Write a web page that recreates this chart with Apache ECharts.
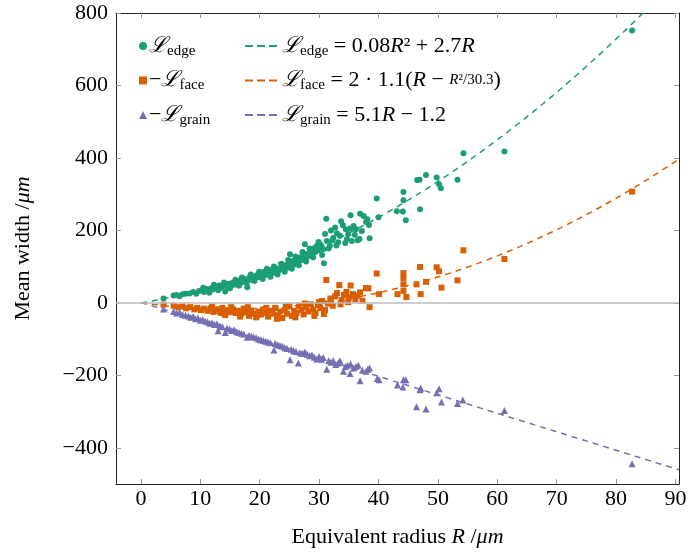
<!DOCTYPE html>
<html><head><meta charset="utf-8">
<script src="https://cdn.jsdelivr.net/npm/echarts@6/dist/echarts.min.js"></script>
<style>html,body{margin:0;padding:0;background:#fff}#c{width:690px;height:553px}</style>
</head><body><div id="c"></div>
<script>
const xTicks = [0,10,20,30,40,50,60,70,80,90];
const yTicks = [-400,-200,0,200,400,600,800];
const xRange = [-4.2, 90.6];
const yRange = [-500, 800];

// [R, value]
const edgeData = [
[3.8,12],[5.5,20],[6,22],[6.5,18],[7,24],[7.5,25],[8.2,26],[8.8,30],[9.3,25],[9.8,33],[10.2,35],[10.6,30],[11,38],[11.3,34],[11.8,40],[12.1,37],[12.5,44],[12.8,40],[13.2,48],[13.5,42],[13.9,50],[14.2,31],[14.4,46],[14.8,52],[15.1,48],[15.4,55],[15.7,50],[16,58],[16.3,53],[16.6,62],[16.9,56],[17.2,60],[17.5,66],[17.9,43],[18,63],[18.3,70],[18.6,64],[18.9,72],[19.2,68],[19.5,76],[19.8,71],[20.1,80],[20.4,73],[20.7,85],[21,77],[21.3,82],[21.6,88],[21.9,79],[22.2,90],[22.5,84],[22.8,95],[23.1,87],[23.4,92],[23.7,100],[24,94],[24.3,104],[24.6,97],[24.9,110],[25.1,134],[25.2,102],[25.5,115],[25.8,106],[26.1,120],[26.4,112],[26.7,125],[27,118],[27.3,130],[27.6,162],[27.6,122],[27.9,135],[28.2,128],[28.5,139],[28.8,136],[29.1,150],[29.4,140],[29.6,157],[29.7,155],[30,145],[30.3,160],[30.7,148],[30.8,109],[31.2,232],[31.3,171],[31.8,157],[32.4,180],[32.7,208],[33,192],[33.2,167],[33.5,185],[34,214],[34.4,165],[34.5,203],[34.7,176],[34.9,190],[35.2,205],[35.3,242],[35.5,171],[36.2,203],[36.5,173],[36.8,176],[36.9,246],[37.9,223],[38.1,231],[38.4,215],[38.5,178],[39.7,288],[40,236],[43.1,253],[44.1,252],[44.2,283],[44.2,306],[44.6,228],[46.5,339],[46.9,340],[47,258],[48,353],[49.8,346],[50.2,327],[50.5,316],[53.3,340],[54.3,413],[61.2,418],[82.7,752],
[10.5,42],[11.5,28],[12.3,50],[13,35],[14,56],[15,40],[15.9,64],[16.5,47],[17,70],[17.8,55],[18.5,78],[19.1,60],[19.9,86],[20.5,66],[21.2,94],[21.8,72],[22.4,100],[23,78],[23.6,108],[24.2,86],[24.8,118],[25.4,94],[26,128],[26.6,104],[27.2,140],[27.8,114],[28.4,150],[29,126],[29.9,168],[30.5,132],[31,190],[31.6,150],[32,200],[32.9,158],[33.7,225],[35.8,212],[36,188],[37.2,198],[37.5,240],[32.2,172]
];
const faceData = [
[3.8,-5],[5.5,-8],[6.2,-12],[7,-10],[7.6,-15],[8.3,-12],[9,-18],[9.5,-14],[10.1,-20],[10.6,-16],[11.2,-22],[11.7,-15],[12.2,-25],[12.7,-18],[13.2,-24],[13.7,-14],[14.2,-34],[14.5,-20],[15,-26],[15.5,-18],[16,-28],[16.4,-22],[16.9,-30],[17.3,-16],[17.8,-26],[18.2,-36],[18.6,-22],[19,-30],[19.4,-40],[19.8,-24],[20.2,-32],[20.6,-18],[21,-28],[21.4,-38],[21.8,-22],[22.2,-30],[22.6,-14],[23,-34],[23.4,-24],[23.8,-42],[24.2,-20],[24.6,-30],[25,-10],[25.4,-36],[25.8,-22],[26.2,-28],[26.6,-8],[27,-20],[27.4,-32],[27.8,-12],[28.2,-24],[28.6,-4],[29,-18],[29.4,-28],[29.8,-6],[30.2,-14],[30.5,5],[30.8,-31],[31.2,63],[31.5,-2],[31.9,12],[32.3,-8],[32.7,18],[33,27],[33.4,49],[33.8,8],[34.2,22],[34.6,30],[35,14],[35.3,48],[35.7,24],[36.1,10],[36.5,20],[36.9,29],[37.3,6],[37.9,41],[38.3,40],[38.5,-12],[39.7,81],[40.1,24],[43.2,24],[44.2,82],[44.2,68],[44.2,51],[44.2,33],[44.7,16],[46.4,51],[47,99],[47.1,24],[48,58],[49.8,98],[50.2,87],[50.6,42],[53.3,62],[54.3,145],[61.2,121],[82.7,307],
[12,-10],[13.5,-28],[15.2,-12],[16.7,-38],[18,-12],[19.6,-34],[21.1,-14],[22.9,-44],[24.4,-10],[26,-40],[27.6,-2],[29.2,-36],[30,2],[31,-20],[32,4],[33.6,-4],[34.9,2]
];
const grainData = [
[3.8,-17],[5.5,-24],[6,-28],[6.5,-26],[7,-32],[7.5,-34],[8,-36],[8.4,-40],[8.8,-38],[9.2,-44],[9.6,-42],[10,-48],[10.4,-46],[10.8,-50],[11.2,-52],[11.6,-56],[12,-55],[12.4,-60],[12.8,-58],[13,-77],[13.3,-64],[13.7,-66],[14.2,-82],[14.5,-70],[14.9,-72],[15.3,-76],[15.7,-74],[16.1,-80],[16.5,-82],[16.9,-84],[17.3,-86],[17.9,-95],[18.2,-90],[18.6,-92],[19,-94],[19.4,-96],[19.8,-100],[20.2,-102],[20.6,-104],[21,-106],[21.4,-108],[21.8,-110],[22.4,-130],[22.6,-112],[23,-116],[23.4,-118],[23.8,-120],[24.2,-124],[24.6,-126],[25.1,-157],[25.3,-128],[25.7,-132],[26.1,-134],[26.5,-166],[26.8,-138],[27.2,-140],[27.6,-136],[28,-142],[28.4,-146],[28.8,-144],[29.2,-150],[29.6,-155],[30,-148],[30.4,-156],[30.7,-151],[31.3,-183],[31.6,-160],[32,-164],[32.4,-160],[32.8,-170],[33.2,-166],[33.5,-160],[34.1,-189],[34.4,-176],[34.8,-172],[35.2,-195],[35.3,-169],[35.8,-180],[36.2,-176],[36.6,-172],[36.9,-215],[37.3,-186],[37.9,-189],[38.2,-183],[38.5,-180],[39.8,-209],[40.1,-212],[43.2,-227],[44.1,-232],[44.2,-212],[44.6,-212],[46.4,-287],[47,-240],[47.1,-236],[48,-293],[49.8,-248],[50.2,-237],[50.6,-274],[53.3,-278],[54.2,-268],[61.2,-297],[82.7,-444]
];
// fit coefficients shown in the legend
const edgeFit = [0.08, 2.7];          // a R^2 + b R
const faceFit = [2, 1.1, 30.3];       // -(2*1.1*(R - R^2/30.3))
const grainFit = [5.1, -1.2];         // -(5.1 R - 1.2)

const colors = {edge:'#1b9e77', face:'#d95f02', grain:'#7570b3'};

function curve(f){ const out=[]; for(let i=0;i<=200;i++){const r=xRange[1]*i/200; out.push([r,f(r)]);} return out; }
const edgeLine = curve(r=>edgeFit[0]*r*r+edgeFit[1]*r);
const faceLine = curve(r=>-(faceFit[0]*faceFit[1]*(r-r*r/faceFit[2])));
const grainLine = curve(r=>-(grainFit[0]*r+grainFit[1]));

const FONT = 'Liberation Serif';
const fmtNum = v => v<0 ? '\u2212'+Math.abs(v) : String(v);
const rich = {
  L:{fontFamily:FONT,fontSize:22,fontStyle:'italic',color:'#000'},
  n:{fontFamily:FONT,fontSize:22,color:'#000'},
  i:{fontFamily:FONT,fontSize:22,fontStyle:'italic',color:'#000'},
  s:{fontFamily:FONT,fontSize:15,color:'#000',verticalAlign:'bottom',padding:[10,0,0,0]},
  f:{fontFamily:FONT,fontSize:15,fontStyle:'italic',color:'#000'},
  fn:{fontFamily:FONT,fontSize:15,color:'#000'}
};
const labels = {
  edge:'{L|\u2112}{s|edge}',
  face:'{n|\u2212}{L|\u2112}{s|face}',
  grain:'{n|\u2212}{L|\u2112}{s|grain}',
  fitEdge:'{L|\u2112}{s|edge}{n| = 0.08}{i|R}{n|² + 2.7}{i|R}',
  fitFace:'{L|\u2112}{s|face}{n| = 2 · 1.1(}{i|R}{n| \u2212 }{f|R}{fn|²/30.3}{n|)}',
  fitGrain:'{L|\u2112}{s|grain}{n| = 5.1}{i|R}{n| \u2212 1.2}'
};
const dashIcon = 'path://M0,0h8v2h-8z M12,0h8v2h-8z M24,0h8v2h-8z';

const axCommon = {
  axisLine:{show:true,onZero:false,lineStyle:{color:'#222',width:1}},
  axisTick:{show:true,inside:true,length:5,lineStyle:{color:'#999',width:1}},
  splitLine:{show:false}
};

const chart = echarts.init(document.getElementById('c'), null, {renderer:'canvas'});
chart.setOption({
  animation:false,
  backgroundColor:'#fff',
  grid:{left:116,right:11,top:13,bottom:67},
  xAxis:[
    Object.assign({}, axCommon, {type:'value',min:xRange[0],max:xRange[1],position:'bottom',
      axisTick:Object.assign({}, axCommon.axisTick,{customValues:xTicks}),
      axisLabel:{customValues:xTicks,formatter:fmtNum,fontFamily:FONT,fontSize:22,color:'#000',margin:4},
      name:'{n|Equivalent radius }{i|R}{n| /}{i|μm}',nameLocation:'middle',nameGap:42,
      nameTextStyle:{rich:rich}}),
    Object.assign({}, axCommon, {type:'value',min:xRange[0],max:xRange[1],position:'top',
      axisTick:Object.assign({}, axCommon.axisTick,{customValues:xTicks}),
      axisLabel:{show:false}})
  ],
  yAxis:[
    Object.assign({}, axCommon, {type:'value',min:yRange[0],max:yRange[1],position:'left',
      axisTick:Object.assign({}, axCommon.axisTick,{customValues:yTicks}),
      axisLabel:{customValues:yTicks,formatter:fmtNum,fontFamily:FONT,fontSize:22,color:'#000',margin:8},
      name:'{n|Mean width /}{i|μm}',nameLocation:'middle',nameGap:82,nameRotate:90,
      nameTextStyle:{rich:rich}}),
    Object.assign({}, axCommon, {type:'value',min:yRange[0],max:yRange[1],position:'right',
      axisTick:Object.assign({}, axCommon.axisTick,{customValues:yTicks}),
      axisLabel:{show:false}})
  ],
  legend:[
    {data:['edge','face','grain'],orient:'vertical',left:134,top:30,itemGap:11,itemWidth:8,itemHeight:8,
     formatter:n=>labels[n],textStyle:{rich:rich,padding:[0,0,0,-3]}},
    {data:[{name:'fitEdge',icon:dashIcon},{name:'fitFace',icon:dashIcon},{name:'fitGrain',icon:dashIcon}],
     orient:'vertical',left:240,top:30,itemGap:11,itemWidth:32,itemHeight:8,
     formatter:n=>labels[n],textStyle:{rich:rich}}
  ],
  series:[
    {type:'line',name:'zero',data:[],z:1,silent:true,
     markLine:{silent:true,symbol:['none','none'],label:{show:false},lineStyle:{color:'#bdbdbd',width:1.5,type:'solid'},
       data:[{yAxis:0}]}},
    {type:'scatter',name:'edge',data:edgeData,symbol:'circle',symbolSize:6,itemStyle:{color:colors.edge,opacity:1},z:3},
    {type:'scatter',name:'face',data:faceData,symbol:'rect',symbolSize:6,itemStyle:{color:colors.face,opacity:1},z:3},
    {type:'scatter',name:'grain',data:grainData,symbol:'triangle',symbolSize:7,itemStyle:{color:colors.grain,opacity:1},z:3},
    {type:'line',name:'fitEdge',data:edgeLine,showSymbol:false,symbol:'none',lineStyle:{color:colors.edge,width:1.5,type:[6,5]},itemStyle:{color:colors.edge},z:4},
    {type:'line',name:'fitFace',data:faceLine,showSymbol:false,symbol:'none',lineStyle:{color:colors.face,width:1.5,type:[6,5]},itemStyle:{color:colors.face},z:4},
    {type:'line',name:'fitGrain',data:grainLine,showSymbol:false,symbol:'none',lineStyle:{color:colors.grain,width:1.5,type:[6,5]},itemStyle:{color:colors.grain},z:4}
  ]
});
</script></body></html>
